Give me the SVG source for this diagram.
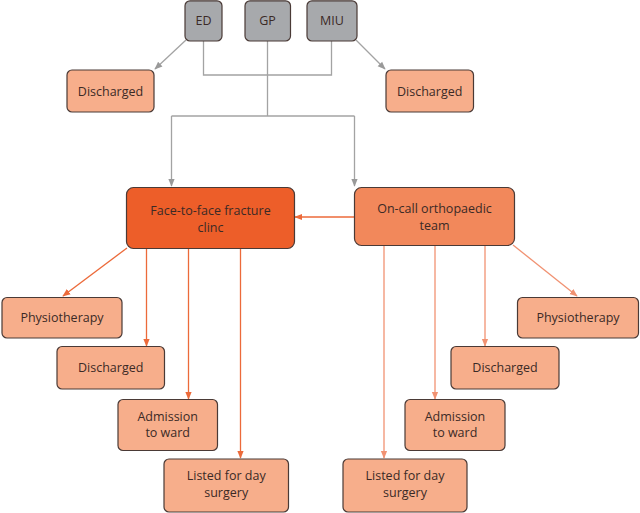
<svg xmlns="http://www.w3.org/2000/svg" width="640" height="513" viewBox="0 0 640 513">
<style>
.box{stroke:#4a3a36;stroke-width:1.2}
.gray{fill:#a7a9ac}
.light{fill:#f7ae8b}
.dark{fill:#ed5e29}
.mid{fill:#f2885b}
text{font-family:"Open Sans","Liberation Sans",sans-serif;font-size:12.5px;fill:#3b2a26;text-anchor:middle}
.cg{fill:none;stroke:#a3a3a3;stroke-width:1.3}
.co{fill:none;stroke:#ec6a3a;stroke-width:1.3}
.cl{fill:none;stroke:#f19272;stroke-width:1.3}
</style>
<defs>
<marker id="ag" viewBox="0 0 10 10" refX="9" refY="5" markerWidth="8" markerHeight="8" orient="auto" markerUnits="userSpaceOnUse"><path d="M0,1 L10,5 L0,9 Z" fill="#999"/></marker>
<marker id="ao" viewBox="0 0 10 10" refX="9" refY="5" markerWidth="8" markerHeight="8" orient="auto" markerUnits="userSpaceOnUse"><path d="M0,1 L10,5 L0,9 Z" fill="#ec6a3a"/></marker>
<marker id="al" viewBox="0 0 10 10" refX="9" refY="5" markerWidth="8" markerHeight="8" orient="auto" markerUnits="userSpaceOnUse"><path d="M0,1 L10,5 L0,9 Z" fill="#f19272"/></marker>
</defs>
<g id="connectors">
<path class="cg" d="M186,40 L155,69" marker-end="url(#ag)"/>
<path class="cg" d="M356,40 L385,69" marker-end="url(#ag)"/>
<path class="cg" d="M203.5,41 V75 H331.5 V41"/>
<path class="cg" d="M267.5,41 V116"/>
<path class="cg" d="M171.5,116 H354.5"/>
<path class="cg" d="M171.5,116 V186" marker-end="url(#ag)"/>
<path class="cg" d="M354.5,116 V186" marker-end="url(#ag)"/>
<path class="co" d="M354,217 H295" marker-end="url(#ao)"/>
<path class="co" d="M127,248 L63,296" marker-end="url(#ao)"/>
<path class="co" d="M146.5,248 V346" marker-end="url(#ao)"/>
<path class="co" d="M188.5,248 V399" marker-end="url(#ao)"/>
<path class="co" d="M240.5,248 V458" marker-end="url(#ao)"/>
<path class="cl" d="M513,245 L577,296" marker-end="url(#al)"/>
<path class="cl" d="M485,246 V346" marker-end="url(#al)"/>
<path class="cl" d="M435,246 V399" marker-end="url(#al)"/>
<path class="cl" d="M384,246 V458" marker-end="url(#al)"/>
</g>
<g id="ed"><rect class="box gray" x="185" y="0.8" width="37" height="40.2" rx="5"/><text x="203.5" y="25">ED</text></g>
<g id="gp"><rect class="box gray" x="245" y="0.8" width="45.5" height="40.2" rx="5"/><text x="267.5" y="25">GP</text></g>
<g id="miu"><rect class="box gray" x="307" y="0.8" width="50" height="40.2" rx="5"/><text x="332" y="25">MIU</text></g>
<g id="dis-tl"><rect class="box light" x="67" y="70" width="87" height="42" rx="5"/><text x="110.5" y="95.5">Discharged</text></g>
<g id="dis-tr"><rect class="box light" x="386" y="70" width="87.5" height="42" rx="5"/><text x="429.7" y="95.5">Discharged</text></g>
<g id="f2f"><rect class="box dark" x="126.5" y="187.5" width="168" height="61" rx="7"/><text x="210.5" y="214.5">Face-to-face fracture</text><text x="210.5" y="231.5">clinc</text></g>
<g id="oncall"><rect class="box mid" x="354.5" y="187.5" width="160" height="58" rx="7"/><text x="434.5" y="212.5">On-call orthopaedic</text><text x="434.5" y="229.5">team</text></g>
<g id="physio-l"><rect class="box light" x="2" y="297.5" width="120" height="40.5" rx="5"/><text x="62" y="322">Physiotherapy</text></g>
<g id="dis-l"><rect class="box light" x="57" y="346.5" width="107.5" height="42.5" rx="5"/><text x="110.7" y="372">Discharged</text></g>
<g id="adm-l"><rect class="box light" x="118" y="399.5" width="99.5" height="51" rx="5"/><text x="167.7" y="420.5">Admission</text><text x="167.7" y="437">to ward</text></g>
<g id="day-l"><rect class="box light" x="164" y="459" width="124.5" height="53" rx="5"/><text x="226.2" y="480">Listed for day</text><text x="226.2" y="497">surgery</text></g>
<g id="physio-r"><rect class="box light" x="517.5" y="297.5" width="121" height="40.5" rx="5"/><text x="578" y="322">Physiotherapy</text></g>
<g id="dis-r"><rect class="box light" x="451" y="346.5" width="108" height="42.5" rx="5"/><text x="505" y="372">Discharged</text></g>
<g id="adm-r"><rect class="box light" x="405" y="399.5" width="100" height="51" rx="5"/><text x="455" y="420.5">Admission</text><text x="455" y="437">to ward</text></g>
<g id="day-r"><rect class="box light" x="343" y="459" width="124" height="53" rx="5"/><text x="405" y="480">Listed for day</text><text x="405" y="497">surgery</text></g>
</svg>
